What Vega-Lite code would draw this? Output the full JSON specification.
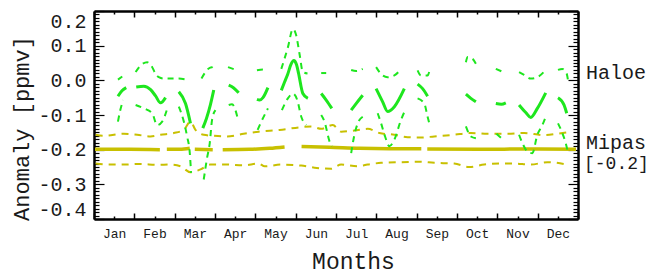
{
  "$schema": "https://vega.github.io/schema/vega-lite/v6.json",
  "width": 484,
  "height": 208,
  "autosize": "none",
  "padding": {"left": 94, "top": 11, "right": 76, "bottom": 56},
  "background": "white",
  "config": {
    "view": {"stroke": null},
    "font": "Liberation Mono",
    "text": {"font": "Liberation Mono"}
  },
  "resolve": {"axis": {"x": "independent", "y": "independent"}},
  "datasets": {
    "lines": [
      {"s":"Hm","g":1,"m":0.594,"v":-0.046},{"s":"Hm","g":1,"m":0.693,"v":-0.03},{"s":"Hm","g":1,"m":0.799,"v":-0.021},
      {"s":"Hm","g":2,"m":1.047,"v":-0.019},{"s":"Hm","g":2,"m":1.237,"v":-0.017},{"s":"Hm","g":2,"m":1.403,"v":-0.027},{"s":"Hm","g":2,"m":1.526,"v":-0.045},{"s":"Hm","g":2,"m":1.65,"v":-0.065},{"s":"Hm","g":2,"m":1.774,"v":-0.05},
      {"s":"Hm","g":3,"m":2.103,"v":-0.033},{"s":"Hm","g":3,"m":2.269,"v":-0.067},{"s":"Hm","g":3,"m":2.392,"v":-0.124},
      {"s":"Hm","g":4,"m":2.697,"v":-0.138},{"s":"Hm","g":4,"m":2.788,"v":-0.11},{"s":"Hm","g":4,"m":2.887,"v":-0.07},{"s":"Hm","g":4,"m":2.969,"v":-0.028},
      {"s":"Hm","g":5,"m":3.34,"v":-0.014},{"s":"Hm","g":5,"m":3.464,"v":-0.022},{"s":"Hm","g":5,"m":3.587,"v":-0.036},
      {"s":"Hm","g":6,"m":4.04,"v":-0.055},{"s":"Hm","g":6,"m":4.107,"v":-0.057},{"s":"Hm","g":6,"m":4.189,"v":-0.05},{"s":"Hm","g":6,"m":4.312,"v":-0.021},
      {"s":"Hm","g":7,"m":4.644,"v":-0.029},{"s":"Hm","g":7,"m":4.725,"v":-0.005},{"s":"Hm","g":7,"m":4.807,"v":0.019},{"s":"Hm","g":7,"m":4.881,"v":0.045},{"s":"Hm","g":7,"m":4.955,"v":0.057},{"s":"Hm","g":7,"m":5.022,"v":0.045},{"s":"Hm","g":7,"m":5.072,"v":0.02},{"s":"Hm","g":7,"m":5.178,"v":-0.038},{"s":"Hm","g":7,"m":5.302,"v":-0.052},
      {"s":"Hm","g":8,"m":5.633,"v":-0.038},{"s":"Hm","g":8,"m":5.757,"v":-0.057},{"s":"Hm","g":8,"m":5.896,"v":-0.081},
      {"s":"Hm","g":9,"m":6.376,"v":-0.086},{"s":"Hm","g":9,"m":6.499,"v":-0.067},{"s":"Hm","g":9,"m":6.662,"v":-0.043},
      {"s":"Hm","g":10,"m":6.994,"v":-0.024},{"s":"Hm","g":10,"m":7.157,"v":-0.062},{"s":"Hm","g":10,"m":7.281,"v":-0.09},{"s":"Hm","g":10,"m":7.447,"v":-0.076},{"s":"Hm","g":10,"m":7.694,"v":-0.024},
      {"s":"Hm","g":11,"m":8.023,"v":-0.011},{"s":"Hm","g":11,"m":8.147,"v":-0.024},{"s":"Hm","g":11,"m":8.271,"v":-0.046},
      {"s":"Hm","g":12,"m":9.221,"v":-0.04},{"s":"Hm","g":12,"m":9.344,"v":-0.052},{"s":"Hm","g":12,"m":9.468,"v":-0.062},
      {"s":"Hm","g":13,"m":9.963,"v":-0.067},{"s":"Hm","g":13,"m":10.101,"v":-0.069},{"s":"Hm","g":13,"m":10.21,"v":-0.065},
      {"s":"Hm","g":14,"m":10.539,"v":-0.071},{"s":"Hm","g":14,"m":10.705,"v":-0.093},{"s":"Hm","g":14,"m":10.829,"v":-0.107},{"s":"Hm","g":14,"m":10.992,"v":-0.081},{"s":"Hm","g":14,"m":11.2,"v":-0.036},
      {"s":"Hm","g":15,"m":11.504,"v":-0.05},{"s":"Hm","g":15,"m":11.653,"v":-0.071},{"s":"Hm","g":15,"m":11.72,"v":-0.095},

      {"s":"Hu","g":1,"m":0.594,"v":0.002},{"s":"Hu","g":1,"m":0.7,"v":0.011},
      {"s":"Hu","g":2,"m":1.032,"v":0.024},{"s":"Hu","g":2,"m":1.155,"v":0.043},{"s":"Hu","g":2,"m":1.319,"v":0.052},{"s":"Hu","g":2,"m":1.418,"v":0.043},{"s":"Hu","g":2,"m":1.526,"v":0.019},{"s":"Hu","g":2,"m":1.608,"v":0.009},{"s":"Hu","g":2,"m":1.732,"v":0.005},{"s":"Hu","g":2,"m":1.898,"v":0.005},{"s":"Hu","g":2,"m":2.103,"v":0.005},{"s":"Hu","g":2,"m":2.269,"v":0.003},
      {"s":"Hu","g":3,"m":2.665,"v":0.005},{"s":"Hu","g":3,"m":2.746,"v":0.021},{"s":"Hu","g":3,"m":2.912,"v":0.038},{"s":"Hu","g":3,"m":2.994,"v":0.029},
      {"s":"Hu","g":4,"m":3.323,"v":0.038},{"s":"Hu","g":4,"m":3.446,"v":0.033},{"s":"Hu","g":4,"m":3.563,"v":0.029},
      {"s":"Hu","g":5,"m":4.04,"v":0.029},{"s":"Hu","g":5,"m":4.189,"v":0.031},{"s":"Hu","g":5,"m":4.305,"v":0.03},
      {"s":"Hu","g":6,"m":4.644,"v":0.033},{"s":"Hu","g":6,"m":4.807,"v":0.095},{"s":"Hu","g":6,"m":4.931,"v":0.148},{"s":"Hu","g":6,"m":5.015,"v":0.129},{"s":"Hu","g":6,"m":5.096,"v":0.076},{"s":"Hu","g":6,"m":5.178,"v":0.024},{"s":"Hu","g":6,"m":5.294,"v":0.02},
      {"s":"Hu","g":7,"m":5.633,"v":0.021},{"s":"Hu","g":7,"m":5.757,"v":0.021},
      {"s":"Hu","g":8,"m":6.376,"v":0.03},{"s":"Hu","g":8,"m":6.499,"v":0.027},{"s":"Hu","g":8,"m":6.662,"v":0.033},
      {"s":"Hu","g":9,"m":6.994,"v":0.038},{"s":"Hu","g":9,"m":7.157,"v":0.014},{"s":"Hu","g":9,"m":7.281,"v":0.009},{"s":"Hu","g":9,"m":7.447,"v":0.014},{"s":"Hu","g":9,"m":7.612,"v":0.033},
      {"s":"Hu","g":10,"m":8.023,"v":0.029},{"s":"Hu","g":10,"m":8.107,"v":0.014},{"s":"Hu","g":10,"m":8.271,"v":0.014},{"s":"Hu","g":10,"m":8.32,"v":0.029},
      {"s":"Hu","g":11,"m":9.221,"v":0.052},{"s":"Hu","g":11,"m":9.26,"v":0.067},{"s":"Hu","g":11,"m":9.384,"v":0.062},{"s":"Hu","g":11,"m":9.468,"v":0.048},
      {"s":"Hu","g":12,"m":9.963,"v":0.033},{"s":"Hu","g":12,"m":10.101,"v":0.026},
      {"s":"Hu","g":13,"m":10.539,"v":0.024},{"s":"Hu","g":13,"m":10.663,"v":0.016},{"s":"Hu","g":13,"m":10.829,"v":0.005},{"s":"Hu","g":13,"m":10.992,"v":0.009},{"s":"Hu","g":13,"m":11.2,"v":0.03},
      {"s":"Hu","g":14,"m":11.504,"v":0.03},{"s":"Hu","g":14,"m":11.611,"v":0.033},{"s":"Hu","g":14,"m":11.72,"v":0.019},{"s":"Hu","g":14,"m":11.752,"v":0.0},

      {"s":"Hl","g":1,"m":0.594,"v":-0.119},{"s":"Hl","g":1,"m":0.643,"v":-0.09},{"s":"Hl","g":1,"m":0.725,"v":-0.057},
      {"s":"Hl","g":2,"m":1.032,"v":-0.071},{"s":"Hl","g":2,"m":1.237,"v":-0.081},{"s":"Hl","g":2,"m":1.442,"v":-0.095},{"s":"Hl","g":2,"m":1.566,"v":-0.129},{"s":"Hl","g":2,"m":1.69,"v":-0.119},{"s":"Hl","g":2,"m":1.831,"v":-0.076},
      {"s":"Hl","g":3,"m":2.103,"v":-0.076},{"s":"Hl","g":3,"m":2.227,"v":-0.119},{"s":"Hl","g":3,"m":2.308,"v":-0.162},{"s":"Hl","g":3,"m":2.375,"v":-0.21},{"s":"Hl","g":3,"m":2.407,"v":-0.267},
      {"s":"Hl","g":4,"m":2.721,"v":-0.286},{"s":"Hl","g":4,"m":2.803,"v":-0.224},{"s":"Hl","g":4,"m":2.87,"v":-0.181},{"s":"Hl","g":4,"m":2.927,"v":-0.114},{"s":"Hl","g":4,"m":3.011,"v":-0.086},
      {"s":"Hl","g":5,"m":3.34,"v":-0.071},{"s":"Hl","g":5,"m":3.422,"v":-0.069},{"s":"Hl","g":5,"m":3.506,"v":-0.086},{"s":"Hl","g":5,"m":3.563,"v":-0.11},
      {"s":"Hl","g":6,"m":4.057,"v":-0.143},{"s":"Hl","g":6,"m":4.149,"v":-0.119},{"s":"Hl","g":6,"m":4.312,"v":-0.081},
      {"s":"Hl","g":7,"m":4.659,"v":-0.086},{"s":"Hl","g":7,"m":4.807,"v":-0.052},{"s":"Hl","g":7,"m":4.931,"v":-0.038},{"s":"Hl","g":7,"m":5.04,"v":-0.057},{"s":"Hl","g":7,"m":5.139,"v":-0.105},{"s":"Hl","g":7,"m":5.262,"v":-0.129},
      {"s":"Hl","g":8,"m":5.633,"v":-0.1},{"s":"Hl","g":8,"m":5.715,"v":-0.119},{"s":"Hl","g":8,"m":5.839,"v":-0.176},{"s":"Hl","g":8,"m":5.896,"v":-0.19},
      {"s":"Hl","g":9,"m":6.376,"v":-0.21},{"s":"Hl","g":9,"m":6.457,"v":-0.157},{"s":"Hl","g":9,"m":6.539,"v":-0.124},{"s":"Hl","g":9,"m":6.662,"v":-0.105},
      {"s":"Hl","g":10,"m":7.034,"v":-0.095},{"s":"Hl","g":10,"m":7.118,"v":-0.124},{"s":"Hl","g":10,"m":7.217,"v":-0.162},{"s":"Hl","g":10,"m":7.323,"v":-0.19},{"s":"Hl","g":10,"m":7.447,"v":-0.171},{"s":"Hl","g":10,"m":7.612,"v":-0.114},{"s":"Hl","g":10,"m":7.736,"v":-0.081},
      {"s":"Hl","g":11,"m":8.023,"v":-0.052},{"s":"Hl","g":11,"m":8.189,"v":-0.067},{"s":"Hl","g":11,"m":8.271,"v":-0.105},{"s":"Hl","g":11,"m":8.313,"v":-0.124},
      {"s":"Hl","g":12,"m":9.221,"v":-0.133},{"s":"Hl","g":12,"m":9.344,"v":-0.162},{"s":"Hl","g":12,"m":9.468,"v":-0.167},
      {"s":"Hl","g":13,"m":9.978,"v":-0.154},{"s":"Hl","g":13,"m":10.101,"v":-0.167},
      {"s":"Hl","g":14,"m":10.539,"v":-0.157},{"s":"Hl","g":14,"m":10.621,"v":-0.181},{"s":"Hl","g":14,"m":10.745,"v":-0.205},{"s":"Hl","g":14,"m":10.868,"v":-0.21},{"s":"Hl","g":14,"m":10.992,"v":-0.157},{"s":"Hl","g":14,"m":11.116,"v":-0.129},{"s":"Hl","g":14,"m":11.2,"v":-0.105},
      {"s":"Hl","g":15,"m":11.504,"v":-0.124},{"s":"Hl","g":15,"m":11.611,"v":-0.152},{"s":"Hl","g":15,"m":11.695,"v":-0.181},{"s":"Hl","g":15,"m":11.735,"v":-0.2},

      {"s":"Mm","g":1,"m":0.025,"v":-0.199},{"s":"Mm","g":1,"m":0.891,"v":-0.199},{"s":"Mm","g":1,"m":1.633,"v":-0.2},
      {"s":"Mm","g":2,"m":1.806,"v":-0.199},{"s":"Mm","g":2,"m":2.128,"v":-0.199},{"s":"Mm","g":2,"m":2.375,"v":-0.196},
      {"s":"Mm","g":3,"m":2.499,"v":-0.199},{"s":"Mm","g":3,"m":2.944,"v":-0.2},
      {"s":"Mm","g":4,"m":3.191,"v":-0.2},{"s":"Mm","g":4,"m":3.859,"v":-0.199},{"s":"Mm","g":4,"m":4.354,"v":-0.196},{"s":"Mm","g":4,"m":4.725,"v":-0.192},
      {"s":"Mm","g":5,"m":5.146,"v":-0.191},{"s":"Mm","g":5,"m":5.839,"v":-0.193},{"s":"Mm","g":5,"m":6.581,"v":-0.196},{"s":"Mm","g":5,"m":7.323,"v":-0.197},{"s":"Mm","g":5,"m":8.115,"v":-0.197},
      {"s":"Mm","g":6,"m":8.263,"v":-0.198},{"s":"Mm","g":6,"m":9.55,"v":-0.199},{"s":"Mm","g":6,"m":10.787,"v":-0.198},{"s":"Mm","g":6,"m":11.95,"v":-0.199},

      {"s":"Mu","g":1,"m":0.042,"v":-0.157},{"s":"Mu","g":1,"m":0.247,"v":-0.16},{"s":"Mu","g":1,"m":0.742,"v":-0.154},{"s":"Mu","g":1,"m":1.071,"v":-0.157},{"s":"Mu","g":1,"m":1.403,"v":-0.162},{"s":"Mu","g":1,"m":1.65,"v":-0.157},{"s":"Mu","g":1,"m":1.979,"v":-0.152},{"s":"Mu","g":1,"m":2.227,"v":-0.143},{"s":"Mu","g":1,"m":2.392,"v":-0.119},{"s":"Mu","g":1,"m":2.516,"v":-0.143},{"s":"Mu","g":1,"m":2.721,"v":-0.157},{"s":"Mu","g":1,"m":2.969,"v":-0.16},{"s":"Mu","g":1,"m":3.298,"v":-0.162},{"s":"Mu","g":1,"m":3.711,"v":-0.154},{"s":"Mu","g":1,"m":4.082,"v":-0.148},{"s":"Mu","g":1,"m":4.602,"v":-0.143},{"s":"Mu","g":1,"m":5.139,"v":-0.135},{"s":"Mu","g":1,"m":5.386,"v":-0.133},{"s":"Mu","g":1,"m":5.633,"v":-0.14},{"s":"Mu","g":1,"m":5.92,"v":-0.129},{"s":"Mu","g":1,"m":6.128,"v":-0.148},{"s":"Mu","g":1,"m":6.457,"v":-0.145},{"s":"Mu","g":1,"m":6.786,"v":-0.14},{"s":"Mu","g":1,"m":7.076,"v":-0.152},{"s":"Mu","g":1,"m":7.447,"v":-0.157},{"s":"Mu","g":1,"m":7.776,"v":-0.164},{"s":"Mu","g":1,"m":8.065,"v":-0.165},{"s":"Mu","g":1,"m":8.436,"v":-0.162},{"s":"Mu","g":1,"m":8.931,"v":-0.157},{"s":"Mu","g":1,"m":9.344,"v":-0.152},{"s":"Mu","g":1,"m":9.755,"v":-0.154},{"s":"Mu","g":1,"m":10.25,"v":-0.154},{"s":"Mu","g":1,"m":10.663,"v":-0.152},{"s":"Mu","g":1,"m":11.158,"v":-0.158},{"s":"Mu","g":1,"m":11.487,"v":-0.154},{"s":"Mu","g":1,"m":11.735,"v":-0.15},

      {"s":"Ml","g":1,"m":0.042,"v":-0.24},{"s":"Ml","g":1,"m":0.329,"v":-0.243},{"s":"Ml","g":1,"m":0.742,"v":-0.243},{"s":"Ml","g":1,"m":1.155,"v":-0.241},{"s":"Ml","g":1,"m":1.566,"v":-0.244},{"s":"Ml","g":1,"m":1.898,"v":-0.243},{"s":"Ml","g":1,"m":2.145,"v":-0.248},{"s":"Ml","g":1,"m":2.392,"v":-0.265},{"s":"Ml","g":1,"m":2.64,"v":-0.257},{"s":"Ml","g":1,"m":2.887,"v":-0.243},{"s":"Ml","g":1,"m":3.298,"v":-0.243},{"s":"Ml","g":1,"m":3.711,"v":-0.245},{"s":"Ml","g":1,"m":4.082,"v":-0.24},{"s":"Ml","g":1,"m":4.231,"v":-0.248},{"s":"Ml","g":1,"m":4.644,"v":-0.243},{"s":"Ml","g":1,"m":5.139,"v":-0.246},{"s":"Ml","g":1,"m":5.468,"v":-0.252},{"s":"Ml","g":1,"m":5.881,"v":-0.255},{"s":"Ml","g":1,"m":6.128,"v":-0.243},{"s":"Ml","g":1,"m":6.539,"v":-0.248},{"s":"Ml","g":1,"m":6.786,"v":-0.243},{"s":"Ml","g":1,"m":7.118,"v":-0.238},{"s":"Ml","g":1,"m":7.612,"v":-0.236},{"s":"Ml","g":1,"m":8.065,"v":-0.235},{"s":"Ml","g":1,"m":8.436,"v":-0.238},{"s":"Ml","g":1,"m":8.931,"v":-0.24},{"s":"Ml","g":1,"m":9.302,"v":-0.25},{"s":"Ml","g":1,"m":9.673,"v":-0.243},{"s":"Ml","g":1,"m":10.077,"v":-0.24},{"s":"Ml","g":1,"m":10.405,"v":-0.24},{"s":"Ml","g":1,"m":10.829,"v":-0.243},{"s":"Ml","g":1,"m":11.24,"v":-0.236},{"s":"Ml","g":1,"m":11.735,"v":-0.243}
    ],
    "labels": [
      {"t":"Haloe","m":12,"v":0.003,"k":"big"},
      {"t":"Mipas","m":12,"v":-0.199,"k":"big"},
      {"t":"[-0.2]","m":12,"v":-0.256,"k":"small"}
    ]
  },
  "layer": [
    {
      "mark": {"type": "rule", "color": "#808080", "strokeWidth": 1.5},
      "encoding": {"y": {"datum": -0.2, "type": "quantitative", "scale": {"domain": [-0.4, 0.2], "nice": false, "zero": false}, "axis": null}}
    },
    {
      "data": {"name": "lines"},
      "transform": [{"filter": "datum.s == 'Mm'"}],
      "mark": {"type": "line", "color": "#c8c000", "strokeWidth": 3.5, "interpolate": "monotone"},
      "encoding": {
        "x": {"field": "m", "type": "quantitative", "scale": {"domain": [0, 12], "nice": false, "zero": false},
          "axis": {
            "orient": "bottom",
            "values": [0,0.5,1,1.5,2,2.5,3,3.5,4,4.5,5,5.5,6,6.5,7,7.5,8,8.5,9,9.5,10,10.5,11,11.5,12],
            "labelExpr": "datum.value % 1 == 0 ? '' : ['Jan','Feb','Mar','Apr','May','Jun','Jul','Aug','Sep','Oct','Nov','Dec'][floor(datum.value)]",
            "tickSize": {"condition": {"test": "datum.value % 1 == 0", "value": -6}, "value": -3},
            "tickColor": "black", "tickWidth": 1.5,
            "domain": true, "domainColor": "black", "domainWidth": 2.5,
            "grid": false,
            "labelFont": "Liberation Mono", "labelFontSize": 13, "labelColor": "#1a1a1a",
            "labelPadding": 11, "labelOverlap": false, "labelFlush": false,
            "title": "Months", "titleFont": "Liberation Mono", "titleFontSize": 23, "titleFontWeight": "normal", "titleColor": "#1a1a1a",
            "titleX": 259, "titleY": 49, "titleAlign": "center", "titleBaseline": "alphabetic"
          }
        },
        "y": {"field": "v", "type": "quantitative", "scale": {"domain": [-0.4, 0.2], "nice": false, "zero": false},
          "axis": {
            "orient": "left",
            "values": [-0.4,-0.39,-0.38,-0.37,-0.36,-0.35,-0.34,-0.33,-0.32,-0.31,-0.3,-0.29,-0.28,-0.27,-0.26,-0.25,-0.24,-0.23,-0.22,-0.21,-0.2,-0.19,-0.18,-0.17,-0.16,-0.15,-0.14,-0.13,-0.12,-0.11,-0.1,-0.09,-0.08,-0.07,-0.06,-0.05,-0.04,-0.03,-0.02,-0.01,0,0.01,0.02,0.03,0.04,0.05,0.06,0.07,0.08,0.09,0.1,0.11,0.12,0.13,0.14,0.15,0.16,0.17,0.18,0.19,0.2],
            "labelExpr": "abs(datum.value*10 - round(datum.value*10)) < 0.001 ? replace(format(datum.value, '.1f'), '\u2212', '-') : ''",
            "tickSize": {"condition": {"test": "abs(datum.value*10 - round(datum.value*10)) < 0.001", "value": -10}, "value": -5},
            "tickColor": "black", "tickWidth": 1.2,
            "domain": true, "domainColor": "black", "domainWidth": 2.5,
            "grid": false,
            "labelFont": "Liberation Mono", "labelFontSize": 20, "labelColor": "#1a1a1a",
            "labelPadding": 18, "labelOverlap": false, "labelFlush": true,
            "title": "Anomaly [ppmv]", "titleFont": "Liberation Mono", "titleFontSize": 22, "titleFontWeight": "normal", "titleColor": "#1a1a1a",
            "titleX": -66, "titleY": 117, "titleAngle": -90, "titleAlign": "center", "titleBaseline": "alphabetic"
          }
        },
        "detail": {"field": "g", "type": "nominal"}
      }
    },
    {
      "data": {"name": "lines"},
      "transform": [{"filter": "datum.s == 'Mu'"}],
      "mark": {"type": "line", "color": "#c8c000", "strokeWidth": 2, "strokeDash": [7, 6], "interpolate": "monotone"},
      "encoding": {
        "x": {"field": "m", "type": "quantitative", "scale": {"domain": [0, 12], "nice": false, "zero": false},
          "axis": {
            "orient": "top",
            "values": [0,0.5,1,1.5,2,2.5,3,3.5,4,4.5,5,5.5,6,6.5,7,7.5,8,8.5,9,9.5,10,10.5,11,11.5,12],
            "labels": false, "title": null,
            "tickSize": {"condition": {"test": "datum.value % 1 == 0", "value": -6}, "value": -3},
            "tickColor": "black", "tickWidth": 1.5,
            "domain": true, "domainColor": "black", "domainWidth": 2.5, "grid": false
          }
        },
        "y": {"field": "v", "type": "quantitative", "scale": {"domain": [-0.4, 0.2], "nice": false, "zero": false},
          "axis": {
            "orient": "right",
            "values": [-0.4,-0.39,-0.38,-0.37,-0.36,-0.35,-0.34,-0.33,-0.32,-0.31,-0.3,-0.29,-0.28,-0.27,-0.26,-0.25,-0.24,-0.23,-0.22,-0.21,-0.2,-0.19,-0.18,-0.17,-0.16,-0.15,-0.14,-0.13,-0.12,-0.11,-0.1,-0.09,-0.08,-0.07,-0.06,-0.05,-0.04,-0.03,-0.02,-0.01,0,0.01,0.02,0.03,0.04,0.05,0.06,0.07,0.08,0.09,0.1,0.11,0.12,0.13,0.14,0.15,0.16,0.17,0.18,0.19,0.2],
            "labels": false, "title": null,
            "tickSize": {"condition": {"test": "abs(datum.value*10 - round(datum.value*10)) < 0.001", "value": -10}, "value": -5},
            "tickColor": "black", "tickWidth": 1.2,
            "domain": true, "domainColor": "black", "domainWidth": 2.5, "grid": false
          }
        },
        "detail": {"field": "g", "type": "nominal"}
      }
    },
    {
      "data": {"name": "lines"},
      "transform": [{"filter": "datum.s == 'Ml'"}],
      "mark": {"type": "line", "color": "#c8c000", "strokeWidth": 2, "strokeDash": [7, 6], "interpolate": "monotone"},
      "encoding": {
        "x": {"field": "m", "type": "quantitative", "axis": null},
        "y": {"field": "v", "type": "quantitative", "axis": null},
        "detail": {"field": "g", "type": "nominal"}
      }
    },
    {
      "mark": {"type": "rule", "color": "black", "strokeWidth": 1.5},
      "encoding": {"y": {"datum": 0, "type": "quantitative", "axis": null}}
    },
    {
      "data": {"name": "lines"},
      "transform": [{"filter": "datum.s == 'Hu' || datum.s == 'Hl'"}],
      "mark": {"type": "line", "color": "#1ee61e", "strokeWidth": 2, "strokeDash": [6, 5], "interpolate": "monotone"},
      "encoding": {
        "x": {"field": "m", "type": "quantitative", "axis": null},
        "y": {"field": "v", "type": "quantitative", "axis": null},
        "detail": [{"field": "s", "type": "nominal"}, {"field": "g", "type": "nominal"}]
      }
    },
    {
      "data": {"name": "lines"},
      "transform": [{"filter": "datum.s == 'Hm'"}],
      "mark": {"type": "line", "color": "#1ee61e", "strokeWidth": 3, "interpolate": "monotone"},
      "encoding": {
        "x": {"field": "m", "type": "quantitative", "axis": null},
        "y": {"field": "v", "type": "quantitative", "axis": null},
        "detail": {"field": "g", "type": "nominal"}
      }
    },
    {
      "data": {"name": "labels"},
      "transform": [{"filter": "datum.k == 'big'"}],
      "mark": {"type": "text", "align": "left", "baseline": "alphabetic", "dx": 8, "fontSize": 20, "font": "Liberation Mono", "color": "#1a1a1a"},
      "encoding": {
        "x": {"field": "m", "type": "quantitative", "axis": null},
        "y": {"field": "v", "type": "quantitative", "axis": null},
        "text": {"field": "t"}
      }
    },
    {
      "data": {"name": "labels"},
      "transform": [{"filter": "datum.k == 'small'"}],
      "mark": {"type": "text", "align": "left", "baseline": "alphabetic", "dx": 6, "fontSize": 18, "font": "Liberation Mono", "color": "#1a1a1a"},
      "encoding": {
        "x": {"field": "m", "type": "quantitative", "axis": null},
        "y": {"field": "v", "type": "quantitative", "axis": null},
        "text": {"field": "t"}
      }
    }
  ]
}
